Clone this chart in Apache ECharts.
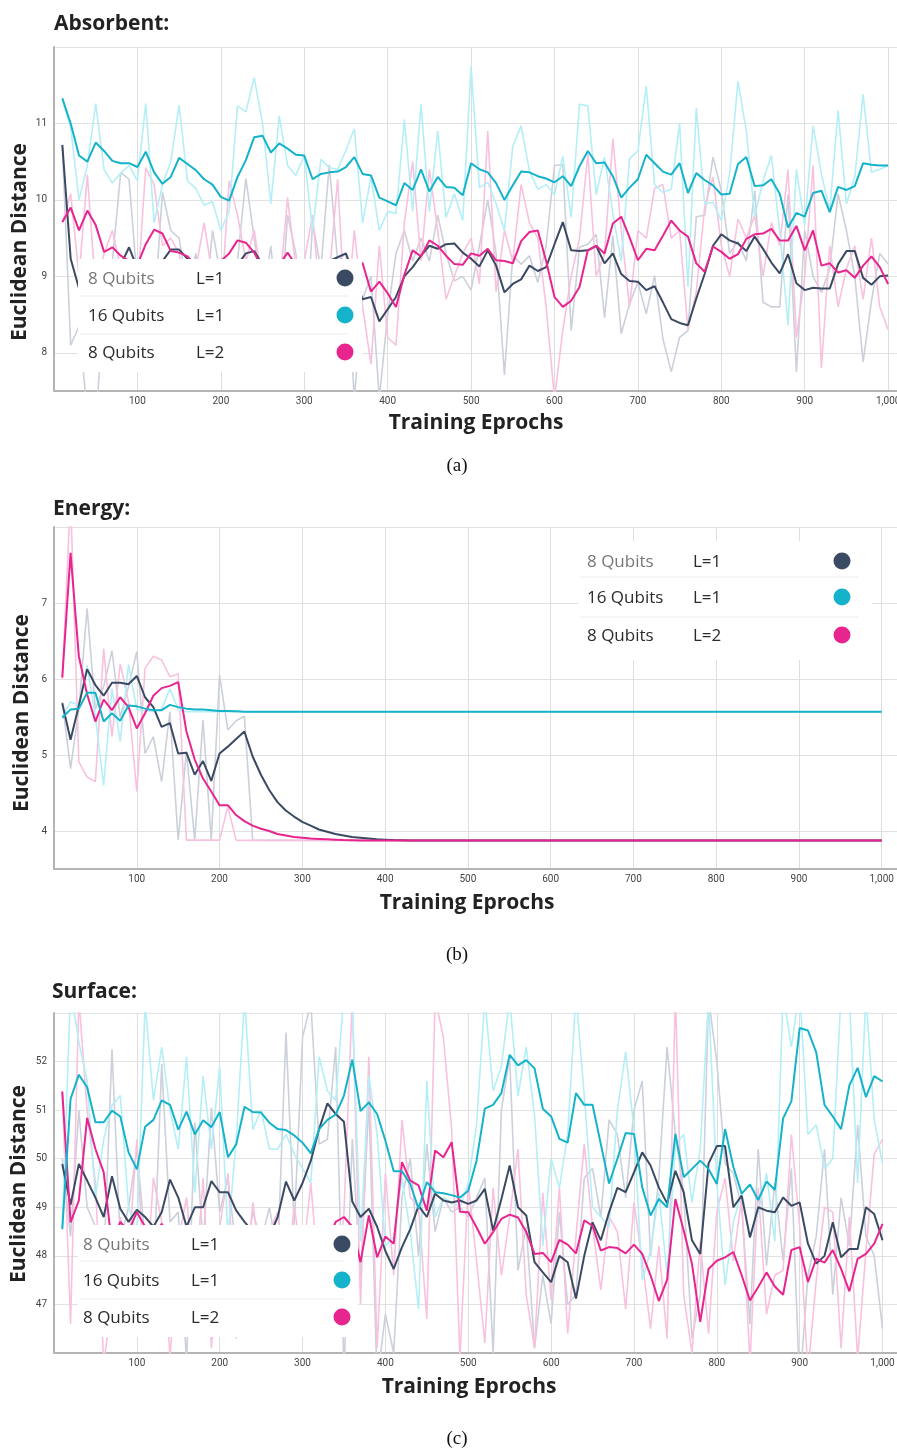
<!DOCTYPE html>
<html>
<head>
<meta charset="utf-8">
<title>Euclidean Distance vs Training Eprochs</title>
<script src="https://cdn.jsdelivr.net/npm/echarts@6.0.0/dist/echarts.min.js"></script>
<style>
  html, body { margin: 0; padding: 0; background: #fff; overflow: hidden; }
  #chart { width: 897px; height: 1452px; }
</style>
</head>
<body>
<div id="chart"></div>
<script>
// x positions: one reading every 10 epochs
const epochs = [
  10, 20, 30, 40, 50, 60, 70, 80, 90, 100,
  110, 120, 130, 140, 150, 160, 170, 180, 190, 200,
  210, 220, 230, 240, 250, 260, 270, 280, 290, 300,
  310, 320, 330, 340, 350, 360, 370, 380, 390, 400,
  410, 420, 430, 440, 450, 460, 470, 480, 490, 500,
  510, 520, 530, 540, 550, 560, 570, 580, 590, 600,
  610, 620, 630, 640, 650, 660, 670, 680, 690, 700,
  710, 720, 730, 740, 750, 760, 770, 780, 790, 800,
  810, 820, 830, 840, 850, 860, 870, 880, 890, 900,
  910, 920, 930, 940, 950, 960, 970, 980, 990, 1000
];

const legendRows = [
  { qubits: '8 Qubits', layers: 'L=1' },
  { qubits: '16 Qubits', layers: 'L=1' },
  { qubits: '8 Qubits', layers: 'L=2' }
];

// ---------- (a) Absorbent ----------
const darkA = [
  10.72, 9.23, 8.84, 8.90, 8.95, 9.00, 9.05, 9.15, 9.38, 9.10,
  9.00, 9.10, 9.20, 9.35, 9.35, 9.23, 9.12, 9.05, 9.10, 9.00,
  9.05, 9.15, 9.30, 9.33, 9.15, 9.05, 9.00, 9.10, 9.05, 8.95,
  9.05, 9.10, 9.20, 9.25, 9.30, 9.00, 8.70, 8.73, 8.41, 8.57,
  8.73, 9.00, 9.12, 9.27, 9.40, 9.36, 9.42, 9.43, 9.31, 9.23,
  9.13, 9.34, 9.14, 8.79, 8.90, 8.96, 9.14, 9.07, 9.12, 9.42,
  9.71, 9.34, 9.33, 9.34, 9.40, 9.17, 9.30, 9.03, 8.94, 8.93,
  8.82, 8.87, 8.66, 8.44, 8.39, 8.36, 8.71, 9.03, 9.40, 9.55,
  9.47, 9.43, 9.33, 9.52, 9.36, 9.18, 9.04, 9.29, 8.91, 8.82,
  8.85, 8.84, 8.84, 9.16, 9.33, 9.33, 8.98, 8.89, 9.00, 9.01
];
const cyanA = [
  11.33, 11.00, 10.58, 10.50, 10.75, 10.64, 10.51, 10.48, 10.48, 10.43,
  10.63, 10.36, 10.21, 10.30, 10.55, 10.47, 10.39, 10.27, 10.20, 10.04,
  9.99, 10.30, 10.52, 10.82, 10.84, 10.62, 10.74, 10.67, 10.59, 10.58,
  10.27, 10.34, 10.36, 10.37, 10.43, 10.56, 10.34, 10.32, 10.03, 9.98,
  9.93, 10.22, 10.13, 10.40, 10.11, 10.30, 10.17, 10.16, 10.06, 10.48,
  10.40, 10.36, 10.22, 10.00, 10.19, 10.37, 10.36, 10.31, 10.28, 10.23,
  10.31, 10.18, 10.44, 10.64, 10.48, 10.49, 10.31, 10.03, 10.16, 10.27,
  10.59, 10.48, 10.37, 10.33, 10.48, 10.09, 10.35, 10.26, 10.19, 10.07,
  10.08, 10.47, 10.56, 10.18, 10.19, 10.27, 10.08, 9.64, 9.83, 9.78,
  10.09, 10.12, 9.84, 10.17, 10.13, 10.18, 10.48, 10.46, 10.45, 10.45
];
const pinkA = [
  9.71, 9.90, 9.60, 9.86, 9.67, 9.32, 9.38, 9.27, 9.20, 9.15,
  9.42, 9.61, 9.56, 9.33, 9.31, 9.26, 9.15, 9.10, 9.05, 9.20,
  9.30, 9.47, 9.44, 9.31, 9.10, 9.05, 9.15, 9.31, 9.15, 9.10,
  9.00, 9.05, 9.10, 9.00, 9.05, 9.20, 9.17, 8.80, 8.93, 8.78,
  8.60, 9.02, 9.34, 9.26, 9.47, 9.40, 9.27, 9.16, 9.15, 9.30,
  9.27, 9.36, 9.21, 9.20, 9.17, 9.46, 9.58, 9.60, 9.20, 8.73,
  8.60, 8.68, 8.86, 9.34, 9.40, 9.30, 9.69, 9.78, 9.51, 9.21,
  9.36, 9.34, 9.53, 9.73, 9.60, 9.52, 9.17, 9.06, 9.39, 9.32,
  9.23, 9.29, 9.49, 9.55, 9.56, 9.62, 9.47, 9.47, 9.66, 9.34,
  9.60, 9.14, 9.17, 9.05, 9.08, 8.98, 9.14, 9.26, 9.12, 8.90
];
const rawDarkA = [
  10.70, 8.10, 8.35, 7.20, 7.10, 8.60, 9.20, 10.36, 10.27, 8.90,
  9.00, 8.50, 10.10, 9.60, 9.50, 8.80, 9.30, 8.40, 9.60, 9.00,
  8.30, 9.20, 10.28, 9.50, 8.70, 9.40, 8.20, 9.80, 9.30, 7.80,
  9.70, 9.10, 10.46, 9.20, 9.30, 7.40, 8.70, 9.00, 7.40, 8.50,
  9.30, 9.60, 9.20, 9.50, 9.20, 9.80, 9.30, 8.94, 9.00, 8.82,
  9.40, 10.00, 9.30, 7.71, 9.27, 9.16, 9.27, 8.92, 9.40, 10.45,
  10.46, 8.29, 9.38, 9.42, 9.55, 8.46, 9.53, 8.25, 8.64, 8.92,
  8.51, 9.01, 8.18, 7.75, 8.20, 8.29, 9.78, 9.80, 10.56, 10.12,
  9.30, 9.46, 9.20, 10.12, 8.66, 8.60, 8.60, 10.07, 7.75, 9.60,
  9.00, 8.79, 9.10, 10.08, 9.60, 9.00, 7.88, 8.68, 9.30, 9.16
];
const rawCyanA = [
  11.30, 10.95, 10.00, 10.45, 11.26, 10.40, 10.22, 10.35, 10.45, 10.25,
  11.26, 9.70, 10.20, 10.50, 11.24, 10.25, 10.15, 9.93, 9.98, 9.60,
  9.85, 11.23, 11.15, 11.60, 11.00, 9.95, 11.10, 10.45, 10.32, 10.58,
  9.60, 10.53, 10.42, 10.40, 10.65, 10.93, 9.70, 10.30, 9.60, 9.85,
  9.82, 11.05, 9.85, 11.25, 9.85, 10.90, 9.77, 10.08, 9.73, 11.75,
  10.16, 10.23, 9.95, 9.60, 10.70, 10.97, 10.38, 10.14, 10.20, 10.07,
  10.57, 9.77, 11.25, 11.23, 10.07, 10.56, 9.82, 9.20, 10.54, 10.64,
  11.49, 10.20, 10.10, 10.14, 11.00, 8.86, 11.20, 9.95, 9.97, 9.73,
  10.34, 11.55, 10.90, 9.78, 10.25, 10.58, 9.60, 8.36, 10.40, 9.67,
  10.97, 10.34, 9.86, 11.17, 9.95, 10.30, 11.38, 10.36, 10.40, 10.45
];
const rawPinkA = [
  9.70, 10.08, 9.00, 10.33, 8.80, 9.30, 9.60, 9.10, 8.40, 8.80,
  10.42, 10.20, 9.40, 9.50, 9.30, 8.60, 9.10, 9.70, 9.00, 8.60,
  10.25, 9.80, 9.20, 9.60, 8.90, 9.20, 8.80, 10.03, 9.10, 9.20,
  9.80, 8.60, 9.00, 10.27, 8.30, 9.60, 8.60, 7.85, 9.40, 8.20,
  8.10, 9.70, 10.50, 9.20, 10.40, 9.60, 8.70, 9.00, 9.30, 9.50,
  8.90, 10.90, 8.80, 9.60, 9.20, 10.20, 9.70, 9.50, 8.60, 7.40,
  8.30, 9.00, 9.50, 10.60, 9.00, 9.30, 10.80, 9.60, 8.60, 9.60,
  9.50, 10.15, 10.20, 9.50, 9.60, 8.30, 8.80, 9.90, 10.30, 9.40,
  9.00, 9.75, 9.50, 9.80, 9.00, 9.70, 9.40, 10.40, 8.20, 9.00,
  10.45, 7.80, 9.40, 8.60, 9.10, 9.40, 8.70, 9.50, 8.60, 8.30
];

// ---------- (b) Energy ----------
const darkB = [
  5.68, 5.20, 5.65, 6.13, 5.92, 5.78, 5.95, 5.95, 5.93, 6.04,
  5.76, 5.63, 5.37, 5.42, 5.02, 5.03, 4.74, 4.92, 4.66, 5.02,
  5.11, 5.21, 5.31, 4.98, 4.74, 4.54, 4.38, 4.27, 4.19, 4.12,
  4.07, 4.02, 3.99, 3.96, 3.94, 3.92, 3.91, 3.90, 3.89, 3.885,
  3.88, 3.878, 3.876, 3.876, 3.876, 3.876, 3.876, 3.876, 3.876, 3.876,
  3.876, 3.876, 3.876, 3.876, 3.876, 3.876, 3.876, 3.876, 3.876, 3.876,
  3.876, 3.876, 3.876, 3.876, 3.876, 3.876, 3.876, 3.876, 3.876, 3.876,
  3.876, 3.876, 3.876, 3.876, 3.876, 3.876, 3.876, 3.876, 3.876, 3.876,
  3.876, 3.876, 3.876, 3.876, 3.876, 3.876, 3.876, 3.876, 3.876, 3.876,
  3.876, 3.876, 3.876, 3.876, 3.876, 3.876, 3.876, 3.876, 3.876, 3.876
];
const cyanB = [
  5.49, 5.60, 5.61, 5.82, 5.82, 5.44, 5.55, 5.45, 5.65, 5.64,
  5.61, 5.59, 5.59, 5.66, 5.63, 5.61, 5.60, 5.60, 5.59, 5.58,
  5.58, 5.575, 5.57, 5.57, 5.57, 5.57, 5.57, 5.57, 5.57, 5.57,
  5.57, 5.57, 5.57, 5.57, 5.57, 5.57, 5.57, 5.57, 5.57, 5.57,
  5.57, 5.57, 5.57, 5.57, 5.57, 5.57, 5.57, 5.57, 5.57, 5.57,
  5.57, 5.57, 5.57, 5.57, 5.57, 5.57, 5.57, 5.57, 5.57, 5.57,
  5.57, 5.57, 5.57, 5.57, 5.57, 5.57, 5.57, 5.57, 5.57, 5.57,
  5.57, 5.57, 5.57, 5.57, 5.57, 5.57, 5.57, 5.57, 5.57, 5.57,
  5.57, 5.57, 5.57, 5.57, 5.57, 5.57, 5.57, 5.57, 5.57, 5.57,
  5.57, 5.57, 5.57, 5.57, 5.57, 5.57, 5.57, 5.57, 5.57, 5.57
];
const pinkB = [
  6.02, 7.66, 6.30, 5.80, 5.44, 5.73, 5.59, 5.76, 5.63, 5.35,
  5.55, 5.78, 5.88, 5.91, 5.96, 5.31, 4.94, 4.69, 4.52, 4.34,
  4.34, 4.21, 4.13, 4.07, 4.03, 4.00, 3.96, 3.94, 3.92, 3.91,
  3.90, 3.895, 3.89, 3.885, 3.88, 3.878, 3.876, 3.876, 3.876, 3.876,
  3.876, 3.876, 3.876, 3.876, 3.876, 3.876, 3.876, 3.876, 3.876, 3.876,
  3.876, 3.876, 3.876, 3.876, 3.876, 3.876, 3.876, 3.876, 3.876, 3.876,
  3.876, 3.876, 3.876, 3.876, 3.876, 3.876, 3.876, 3.876, 3.876, 3.876,
  3.876, 3.876, 3.876, 3.876, 3.876, 3.876, 3.876, 3.876, 3.876, 3.876,
  3.876, 3.876, 3.876, 3.876, 3.876, 3.876, 3.876, 3.876, 3.876, 3.876,
  3.876, 3.876, 3.876, 3.876, 3.876, 3.876, 3.876, 3.876, 3.876, 3.876
];
const rawDarkB = [
  5.70, 4.82, 5.60, 6.93, 5.60, 5.90, 6.37, 5.50, 5.90, 6.36,
  5.02, 5.24, 4.65, 5.57, 3.88, 5.05, 3.88, 5.46, 3.88, 6.05,
  5.33, 5.45, 5.51, 3.88, 3.876, 3.876, 3.876, 3.876, 3.876, 3.876,
  3.876, 3.876, 3.876, 3.876, 3.876, 3.876, 3.876, 3.876, 3.876, 3.876,
  3.876, 3.876, 3.876, 3.876, 3.876, 3.876, 3.876, 3.876, 3.876, 3.876,
  3.876, 3.876, 3.876, 3.876, 3.876, 3.876, 3.876, 3.876, 3.876, 3.876,
  3.876, 3.876, 3.876, 3.876, 3.876, 3.876, 3.876, 3.876, 3.876, 3.876,
  3.876, 3.876, 3.876, 3.876, 3.876, 3.876, 3.876, 3.876, 3.876, 3.876,
  3.876, 3.876, 3.876, 3.876, 3.876, 3.876, 3.876, 3.876, 3.876, 3.876,
  3.876, 3.876, 3.876, 3.876, 3.876, 3.876, 3.876, 3.876, 3.876, 3.876
];
const rawCyanB = [
  5.50, 5.70, 5.65, 6.18, 5.50, 4.60, 5.87, 5.18, 6.19, 5.60,
  5.58, 5.58, 5.60, 5.87, 5.60, 5.57, 5.57, 5.57, 5.57, 5.57,
  5.57, 5.57, 5.57, 5.57, 5.57, 5.57, 5.57, 5.57, 5.57, 5.57,
  5.57, 5.57, 5.57, 5.57, 5.57, 5.57, 5.57, 5.57, 5.57, 5.57,
  5.57, 5.57, 5.57, 5.57, 5.57, 5.57, 5.57, 5.57, 5.57, 5.57,
  5.57, 5.57, 5.57, 5.57, 5.57, 5.57, 5.57, 5.57, 5.57, 5.57,
  5.57, 5.57, 5.57, 5.57, 5.57, 5.57, 5.57, 5.57, 5.57, 5.57,
  5.57, 5.57, 5.57, 5.57, 5.57, 5.57, 5.57, 5.57, 5.57, 5.57,
  5.57, 5.57, 5.57, 5.57, 5.57, 5.57, 5.57, 5.57, 5.57, 5.57,
  5.57, 5.57, 5.57, 5.57, 5.57, 5.57, 5.57, 5.57, 5.57, 5.57
];
const rawPinkB = [
  6.00, 8.40, 4.91, 4.71, 4.65, 6.40, 5.24, 6.20, 5.70, 4.52,
  6.14, 6.30, 6.25, 6.03, 6.07, 3.88, 3.88, 3.88, 3.88, 3.88,
  4.32, 3.88, 3.876, 3.876, 3.876, 3.876, 3.876, 3.876, 3.876, 3.876,
  3.876, 3.876, 3.876, 3.876, 3.876, 3.876, 3.876, 3.876, 3.876, 3.876,
  3.876, 3.876, 3.876, 3.876, 3.876, 3.876, 3.876, 3.876, 3.876, 3.876,
  3.876, 3.876, 3.876, 3.876, 3.876, 3.876, 3.876, 3.876, 3.876, 3.876,
  3.876, 3.876, 3.876, 3.876, 3.876, 3.876, 3.876, 3.876, 3.876, 3.876,
  3.876, 3.876, 3.876, 3.876, 3.876, 3.876, 3.876, 3.876, 3.876, 3.876,
  3.876, 3.876, 3.876, 3.876, 3.876, 3.876, 3.876, 3.876, 3.876, 3.876,
  3.876, 3.876, 3.876, 3.876, 3.876, 3.876, 3.876, 3.876, 3.876, 3.876
];

// ---------- (c) Surface ----------
const darkC = [
  49.89, 49.05, 49.89, 49.55, 49.20, 48.80, 49.64, 48.97, 48.70, 48.95,
  48.80, 48.60, 48.90, 49.57, 49.20, 48.60, 49.00, 49.00, 49.54, 49.31,
  49.31, 48.93, 48.70, 48.50, 48.60, 48.40, 48.80, 49.53, 49.14, 49.50,
  49.96, 50.61, 51.14, 50.92, 50.76, 49.12, 48.80, 48.97, 48.60, 48.10,
  47.73, 48.18, 48.55, 49.03, 48.80, 49.28, 49.14, 49.10, 49.14, 49.07,
  49.14, 49.38, 48.52, 49.17, 49.86, 49.00, 48.83, 47.87, 47.66, 47.46,
  48.00, 47.87, 47.12, 48.00, 48.69, 48.32, 48.90, 49.40, 49.31, 49.72,
  50.13, 49.86, 49.41, 49.08, 49.75, 49.31, 48.32, 48.04, 49.90, 50.26,
  50.26, 49.00, 49.24, 48.38, 49.00, 48.93, 48.90, 49.20, 49.03, 49.10,
  48.25, 47.84, 48.00, 48.69, 47.97, 48.14, 48.14, 49.00, 48.86, 48.32
];
const cyanC = [
  48.55, 51.23, 51.73, 51.47, 50.75, 50.75, 50.99, 50.87, 50.13, 49.78,
  50.66, 50.80, 51.20, 51.11, 50.60, 50.97, 50.50, 50.79, 50.65, 50.96,
  50.03, 50.30, 51.07, 50.96, 50.95, 50.74, 50.61, 50.59, 50.48, 50.33,
  50.11, 50.61, 50.80, 50.91, 51.30, 52.04, 50.98, 51.16, 50.92, 50.37,
  49.74, 49.74, 49.48, 48.97, 49.52, 49.31, 49.29, 49.25, 49.20, 49.34,
  49.96, 51.03, 51.11, 51.35, 52.14, 51.92, 52.03, 51.86, 51.03, 50.87,
  50.41, 50.33, 51.35, 51.11, 51.11, 50.30, 49.49, 50.00, 50.53, 50.51,
  49.41, 48.83, 49.17, 49.00, 50.51, 49.62, 49.79, 49.96, 49.79, 49.48,
  50.61, 49.83, 49.28, 49.47, 49.15, 49.53, 49.36, 50.83, 51.18, 52.69,
  52.64, 52.19, 51.11, 50.87, 50.61, 51.51, 51.87, 51.27, 51.70, 51.59
];
const pinkC = [
  51.38, 48.69, 49.14, 50.84, 50.20, 49.72, 48.20, 48.70, 48.50, 48.90,
  48.60, 48.40, 48.66, 48.30, 48.50, 48.20, 48.40, 48.60, 48.30, 48.50,
  48.20, 48.40, 48.10, 48.30, 48.50, 48.20, 48.40, 48.30, 48.50, 48.20,
  48.40, 48.60, 48.30, 48.70, 48.80, 48.60, 47.87, 48.83, 47.97, 48.40,
  48.25, 49.93, 49.55, 49.45, 48.93, 50.17, 50.03, 50.34, 48.91, 48.90,
  48.59, 48.25, 48.49, 48.76, 48.85, 48.79, 48.49, 48.04, 48.06, 47.87,
  48.33, 48.23, 48.05, 48.73, 48.62, 48.11, 48.18, 48.16, 48.05, 48.23,
  48.04, 47.60, 47.07, 47.51, 49.17, 48.52, 47.84, 46.64, 47.73, 47.90,
  47.97, 48.08, 47.60, 47.08, 47.36, 47.66, 47.37, 47.20, 48.12, 48.18,
  47.46, 47.94, 47.86, 48.12, 47.73, 47.27, 47.94, 48.04, 48.25, 48.66
];
const rawDarkC = [
  50.00, 48.40, 51.00, 49.00, 48.60, 47.80, 52.25, 48.30, 49.00, 50.20,
  48.30, 47.50, 51.95, 48.70, 48.90, 45.80, 50.75, 48.20, 51.05, 48.90,
  49.60, 48.10, 47.80, 48.90, 48.30, 49.00, 48.00, 52.60, 48.60, 52.50,
  53.20, 50.30, 50.40, 52.30, 45.60, 50.40, 47.50, 51.20, 45.40, 46.80,
  46.00, 49.20, 50.00, 48.00, 50.30, 48.50, 49.20, 48.90, 49.00, 48.80,
  49.20, 49.60, 46.00, 51.00, 52.10, 47.70, 48.60, 46.10, 47.60, 46.60,
  48.90, 47.00, 47.20, 49.60, 49.80, 48.80, 50.80, 50.50, 49.20, 51.00,
  51.60, 48.00, 49.60, 52.30, 50.50, 49.30, 46.30, 47.20, 53.30, 52.00,
  49.90, 49.70, 49.00, 46.60, 50.20, 47.80, 49.50, 47.90, 49.80, 45.30,
  47.60, 48.40, 50.20, 47.20, 49.20, 48.20, 50.70, 48.40, 48.00, 46.50
];
const rawCyanC = [
  48.60, 53.50, 52.40, 51.60, 49.20, 50.40, 51.10, 51.30, 49.00, 48.50,
  53.20, 51.20, 52.30, 51.00, 50.20, 52.10, 49.30, 51.70, 50.20, 51.90,
  48.40, 50.40, 53.30, 50.60, 51.00, 50.20, 50.20, 50.50, 50.10, 49.80,
  49.50, 52.10, 51.40, 51.20, 53.40, 53.20, 48.30, 51.70, 50.50, 48.20,
  48.40, 49.60, 48.50, 46.90, 51.60, 48.80, 49.20, 49.10, 49.00, 49.50,
  50.70, 53.30, 51.40, 51.90, 53.30, 51.30, 52.30, 50.90, 48.20, 50.00,
  49.40, 50.50, 53.40, 51.30, 49.00, 48.80, 48.60, 51.00, 52.20, 50.60,
  47.50, 48.10, 49.30, 47.60, 50.30, 50.50, 49.10, 50.20, 53.30, 49.50,
  47.40, 48.70, 49.30, 48.40, 48.90, 49.70, 48.30, 53.40, 52.30, 53.50,
  50.50, 50.70, 49.80, 50.00, 53.40, 53.30, 49.50, 53.40, 50.80, 49.90
];
const rawPinkC = [
  51.40, 46.60, 53.30, 51.00, 49.50, 45.80, 47.00, 48.80, 48.00, 50.40,
  47.10, 49.60, 48.70, 45.90, 48.30, 49.20, 47.30, 49.60, 46.10, 48.60,
  49.70, 46.30, 47.20, 49.10, 47.70, 48.50, 48.90, 47.60, 49.00, 47.90,
  49.50, 47.40, 48.60, 47.20, 48.90, 53.30, 47.00, 52.10, 46.10, 49.70,
  47.60, 50.80, 49.20, 49.00, 46.70, 53.30, 52.50, 50.60, 45.90, 49.50,
  47.90, 46.20, 49.40, 47.60, 48.80, 50.20, 47.20, 46.10, 49.30, 47.10,
  49.40, 46.40, 48.40, 50.30, 48.60, 47.30, 48.80, 48.50, 46.90, 49.10,
  47.90, 46.50, 48.20, 46.30, 53.40, 47.20, 46.00, 48.30, 46.40, 48.90,
  49.60, 47.90, 49.20, 45.80, 49.40, 46.80, 47.60, 47.70, 50.50, 48.60,
  45.60, 47.50, 49.00, 48.90, 46.10, 48.80, 45.90, 48.10, 50.10, 50.40
];

const colDark = '#3b4a63', colCyan = '#15b3c9', colPink = '#e8258f';
const colDarkRaw = '#cbd0db', colCyanRaw = '#b4eff7', colPinkRaw = '#f8c2df';

// the plots run past the right edge of the page, as in the original
const panels = [
  {
    title: 'Absorbent:', titleX: 54, titleY: 24, caption: '(a)', capY: 466,
    grid: { left: 54, top: 47, width: 860, height: 344, outerBoundsMode: 'none' },
    xMax: 1031, yMin: 7.5, yMax: 12, xNameX: 476, xNameY: 423, yNameX: 20, yNameY: 242,
    raw: [rawDarkA, rawPinkA, rawCyanA], bold: [darkA, pinkA, cyanA],
    legend: { x: 78, y: 259, w: 284, h: 113, tx: 88, lx: 196, dx: 345, rows: [279, 316, 353], seps: [296, 334] }
  },
  {
    title: 'Energy:', titleX: 53, titleY: 509, caption: '(b)', capY: 955,
    grid: { left: 54, top: 527, width: 860, height: 342, outerBoundsMode: 'none' },
    xMax: 1039, yMin: 3.5, yMax: 8, xNameX: 467, xNameY: 903, yNameX: 22, yNameY: 713,
    raw: [rawDarkB, rawPinkB, rawCyanB], bold: [darkB, pinkB, cyanB],
    legend: { x: 578, y: 541, w: 294, h: 119, tx: 587, lx: 693, dx: 842, rows: [562, 598, 636], seps: [577, 617] }
  },
  {
    title: 'Surface:', titleX: 52, titleY: 992, caption: '(c)', capY: 1439,
    grid: { left: 54, top: 1013, width: 860, height: 340, outerBoundsMode: 'none' },
    xMax: 1038, yMin: 46, yMax: 53, xNameX: 469, xNameY: 1387, yNameX: 19, yNameY: 1184,
    raw: [rawDarkC, rawPinkC, rawCyanC], bold: [darkC, pinkC, cyanC],
    legend: { x: 78, y: 1225, w: 280, h: 112, tx: 83, lx: 191, dx: 342, rows: [1245, 1281, 1318], seps: [1261, 1299] }
  }
];

const pts = arr => epochs.map((e, i) => [e, arr[i]]);

function text(x, y, str, font, fill, align, extra) {
  return Object.assign({
    type: 'text', x: x, y: y, z: 110,
    style: { text: str, font: font, fill: fill, align: align || 'left', verticalAlign: 'middle',
             textAlign: align || 'left', textVerticalAlign: 'middle' }
  }, extra || {});
}

const grids = [], xAxes = [], yAxes = [], series = [], graphics = [];
const boldColors = [colDark, colPink, colCyan];
const rawColors = [colDarkRaw, colPinkRaw, colCyanRaw];
const dotColors = [colDark, colCyan, colPink];

panels.forEach((p, k) => {
  grids.push(p.grid);
  xAxes.push({
    type: 'value', gridIndex: k, min: 0, max: p.xMax, interval: 100,
    axisLine: { show: true, lineStyle: { color: '#b4b4b4', width: 2 } },
    axisTick: { show: false },
    splitLine: { show: true, lineStyle: { color: '#dedede', width: 1 } },
    axisLabel: {
      fontSize: 10, color: '#444', margin: 5, fontFamily: 'Roboto',
      formatter: v => (v === 0 || v > 1000) ? '' : v.toLocaleString('en-US')
    }
  });
  yAxes.push({
    type: 'value', gridIndex: k, min: p.yMin, max: p.yMax, minInterval: 1, maxInterval: 1,
    axisLine: { show: true, lineStyle: { color: '#b4b4b4', width: 2 } },
    axisTick: { show: false },
    splitLine: { show: true, lineStyle: { color: '#e2e2e2', width: 1 } },
    axisLabel: {
      fontSize: 10, color: '#444', margin: 7, fontFamily: 'Roboto',
      formatter: v => (Number.isInteger(v) && v > p.yMin && v < p.yMax) ? String(v) : ''
    }
  });

  // faint raw runs first, smoothed runs on top
  p.raw.forEach((arr, j) => series.push({
    type: 'line', xAxisIndex: k, yAxisIndex: k, data: pts(arr),
    showSymbol: false, symbol: 'none', silent: true, z: 2,
    lineStyle: { color: rawColors[j], width: 1.6 }, itemStyle: { color: rawColors[j] }
  }));
  p.bold.forEach((arr, j) => series.push({
    type: 'line', xAxisIndex: k, yAxisIndex: k, data: pts(arr),
    showSymbol: false, symbol: 'none', silent: true, z: 3,
    lineStyle: { color: boldColors[j], width: 2 }, itemStyle: { color: boldColors[j] }
  }));

  graphics.push(text(p.titleX, p.titleY, p.title, 'bold 21px "Open Sans"', '#222'));
  graphics.push(text(p.xNameX, p.xNameY, 'Training Eprochs', 'bold 21px "Open Sans"', '#222', 'center'));
  graphics.push(text(p.yNameX, p.yNameY, 'Euclidean Distance', 'bold 21px "Open Sans"', '#222', 'center',
    { rotation: Math.PI / 2 }));
  graphics.push(text(457, p.capY, p.caption, '19px "Liberation Serif"', '#111', 'center'));

  // legend box
  const L = p.legend;
  graphics.push({ type: 'rect', z: 100, shape: { x: L.x, y: L.y, width: L.w, height: L.h }, style: { fill: '#fff' } });
  L.seps.forEach(sy => graphics.push({
    type: 'line', z: 101, shape: { x1: L.x + 2, y1: sy, x2: L.x + L.w - 14, y2: sy },
    style: { stroke: '#ececec', lineWidth: 1 }
  }));
  legendRows.forEach((r, i) => {
    graphics.push(text(L.tx, L.rows[i], r.qubits, '17px "Open Sans"', i === 0 ? '#777' : '#2b2b2b'));
    graphics.push(text(L.lx, L.rows[i], r.layers, '17px "Open Sans"', '#2b2b2b'));
    graphics.push({ type: 'circle', z: 110, shape: { cx: L.dx, cy: L.rows[i] - 1, r: 8.5 }, style: { fill: dotColors[i] } });
  });
});

const chart = echarts.init(document.getElementById('chart'), null, { renderer: 'canvas' });
chart.setOption({
  backgroundColor: '#fff',
  animation: false,
  grid: grids,
  xAxis: xAxes,
  yAxis: yAxes,
  series: series,
  graphic: { elements: graphics }
});
</script>
</body>
</html>
